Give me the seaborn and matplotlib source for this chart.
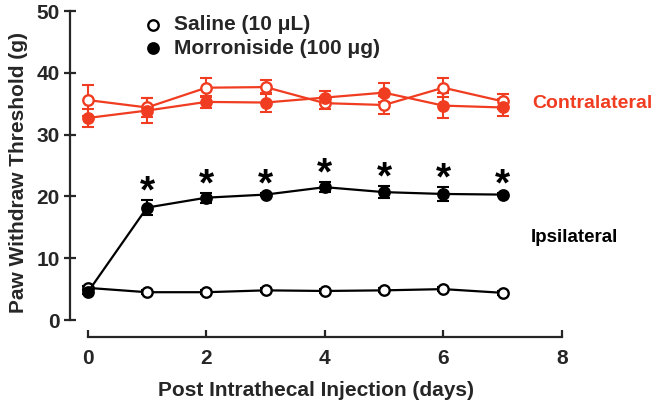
import matplotlib
matplotlib.use("Agg")
import matplotlib.pyplot as plt
import seaborn as sns
import pandas as pd
import numpy as np

days = [0, 1, 2, 3, 4, 5, 6, 7]
saline_contra = [35.6, 34.4, 37.6, 37.7, 35.1, 34.8, 37.6, 35.4]
saline_contra_err = [2.5, 1.5, 1.5, 1.2, 1.0, 1.5, 1.5, 1.2]
morr_contra = [32.7, 33.9, 35.3, 35.2, 36.0, 36.8, 34.7, 34.4]
morr_contra_err = [1.5, 2.0, 1.0, 1.5, 1.0, 1.5, 2.0, 1.3]
saline_ipsi = [5.2, 4.5, 4.5, 4.8, 4.7, 4.8, 5.0, 4.4]
saline_ipsi_err = [0.3, 0.3, 0.3, 0.3, 0.3, 0.3, 0.3, 0.3]
morr_ipsi = [4.5, 18.2, 19.8, 20.3, 21.5, 20.7, 20.4, 20.3]
morr_ipsi_err = [0.3, 1.2, 0.8, 0.3, 0.8, 1.0, 1.2, 0.3]
star_days = [1, 2, 3, 4, 5, 6, 7]

RED = "#F03C20"
BLACK = "black"

sns.set_style("ticks")
plt.rcParams['font.family'] = ['Liberation Sans', 'DejaVu Sans']
plt.rcParams['font.weight'] = 'bold'

W, H = 667, 403
fig = plt.figure(figsize=(6.67, 4.03), dpi=100)
left_px, right_px, bottom_px, top_px = 70, 563, 337, 8
ax = fig.add_axes([left_px/W, 1-bottom_px/H, (right_px-left_px)/W, (bottom_px-top_px)/H])

series = [
    (saline_contra, saline_contra_err, RED, True),
    (morr_contra, morr_contra_err, RED, False),
    (saline_ipsi, saline_ipsi_err, BLACK, True),
    (morr_ipsi, morr_ipsi_err, BLACK, False),
]
for vals, errs, col, is_open in series:
    df = pd.DataFrame({"day": days, "v": vals})
    ax.errorbar(days, vals, yerr=errs, fmt='none', ecolor=col, elinewidth=1.5,
                capsize=4.5, capthick=1.5, zorder=2)
    sns.lineplot(data=df, x="day", y="v", ax=ax, color=col, linewidth=1.6,
                 marker='o', markersize=7.5,
                 markerfacecolor='white' if is_open else col,
                 markeredgecolor=col, markeredgewidth=1.7, zorder=3)

for d in star_days:
    i = days.index(d)
    ax.text(d, morr_ipsi[i] + morr_ipsi_err[i] - 0.4, "*", ha='center', va='baseline',
            fontsize=28, fontweight='bold', color='black')

ax.set_xlim(-0.30, 8.02)
ax.set_ylim(-2.75, 50.5)
ax.spines['left'].set_bounds(0, 50)
ax.spines['bottom'].set_bounds(0, 8)
for s in ['top', 'right']:
    ax.spines[s].set_visible(False)
for s in ['left', 'bottom']:
    ax.spines[s].set_linewidth(1.6)
ax.set_xticks([0, 2, 4, 6, 8])
ax.set_yticks([0, 10, 20, 30, 40, 50])
ax.minorticks_off()
ax.tick_params(axis='x', direction='in', width=1.6, length=5, labelsize=15, pad=9)
ax.tick_params(axis='y', direction='inout', width=1.6, length=9, labelsize=15, pad=3)
for lab in ax.get_xticklabels() + ax.get_yticklabels():
    lab.set_fontweight('bold')
ax.set_xlabel("Post Intrathecal Injection (days)", fontsize=15, fontweight='bold', labelpad=9)
ax.set_ylabel("Paw Withdraw Threshold (g)", fontsize=15, fontweight='bold', labelpad=6)

# legend
ax.plot([1.1], [47.8], marker='o', markersize=7.5, markerfacecolor='white',
        markeredgecolor='black', markeredgewidth=1.7, linestyle='none', clip_on=False)
ax.plot([1.1], [44.0], marker='o', markersize=7.5, markerfacecolor='black',
        markeredgecolor='black', markeredgewidth=1.7, linestyle='none', clip_on=False)
ax.text(1.45, 47.8, "Saline (10 \u03bcL)", fontsize=15, fontweight='bold', va='center')
ax.text(1.45, 44.0, "Morroniside (100 \u03bcg)", fontsize=15, fontweight='bold', va='center')

ax.text(7.5, 35.0, "Contralateral", fontsize=14, fontweight='bold', color=RED,
        va='center', ha='left', clip_on=False)
ax.text(7.47, 13.3, "Ipsilateral", fontsize=13.5, fontweight='bold', color='black',
        va='center', ha='left', clip_on=False)

fig.savefig("out.png", dpi=100)
